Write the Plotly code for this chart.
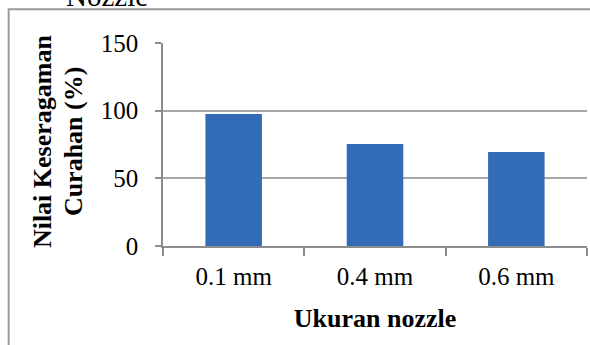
import plotly.graph_objects as go

# Nozzle size categories and measured spray-uniformity values (%)
categories = ["0.1 mm", "0.4 mm", "0.6 mm"]
uniformity = [97.5, 75.3, 69.4]
y_ticks = [0, 50, 100, 150]

FONT = "Liberation Serif, Times New Roman, serif"

fig = go.Figure()
fig.add_trace(go.Bar(
    x=categories,
    y=uniformity,
    marker=dict(color="#336CB6", line=dict(width=0)),
    width=0.4,
))

fig.update_layout(
    width=590,
    height=345,
    margin=dict(l=163, r=3, t=43, b=99),
    paper_bgcolor="white",
    plot_bgcolor="white",
    showlegend=False,
    font=dict(family=FONT, size=25, color="black"),
    xaxis=dict(
        showline=True, linecolor="#8C8C8C", linewidth=1.5,
        ticks="outside", ticklen=8, tickcolor="#8C8C8C", tickwidth=1.5,
        tickson="boundaries",
        showgrid=False,
        tickfont=dict(size=25),
        ticklabelstandoff=7,
        title=dict(text="<b>Ukuran nozzle</b>", font=dict(size=26), standoff=20),
    ),
    yaxis=dict(
        range=[0, 150],
        tickvals=y_ticks,
        showline=True, linecolor="#8C8C8C", linewidth=1.5,
        ticks="outside", ticklen=6, tickcolor="#8C8C8C", tickwidth=1.5,
        showgrid=True, gridcolor="#A6A6A6", gridwidth=1.5,
        zeroline=False,
        tickfont=dict(size=25),
        ticklabelstandoff=12,
    ),
    shapes=[
        dict(type="rect", xref="paper", yref="paper",
             x0=-0.364, x1=1.1, y0=-0.6, y1=1.166,
             line=dict(color="#9A9A9A", width=2), layer="below"),
    ],
    annotations=[
        # two-line y-axis title, set as separate rotated lines for tighter spacing
        dict(text="<b>Nilai Keseragaman</b>", xref="paper", yref="paper",
             x=-0.2854, y=0.5166, xanchor="center", yanchor="middle",
             textangle=-90, showarrow=False, font=dict(size=26, family=FONT)),
        dict(text="<b>Curahan (%)</b>", xref="paper", yref="paper",
             x=-0.2123, y=0.5166, xanchor="center", yanchor="middle",
             textangle=-90, showarrow=False, font=dict(size=26, family=FONT)),
        dict(text="Nozzle", xref="paper", yref="paper", x=-0.132, y=1.145,
             xanchor="center", yanchor="bottom", showarrow=False,
             font=dict(size=29, family=FONT)),
    ],
)

fig.write_html("out.html")
